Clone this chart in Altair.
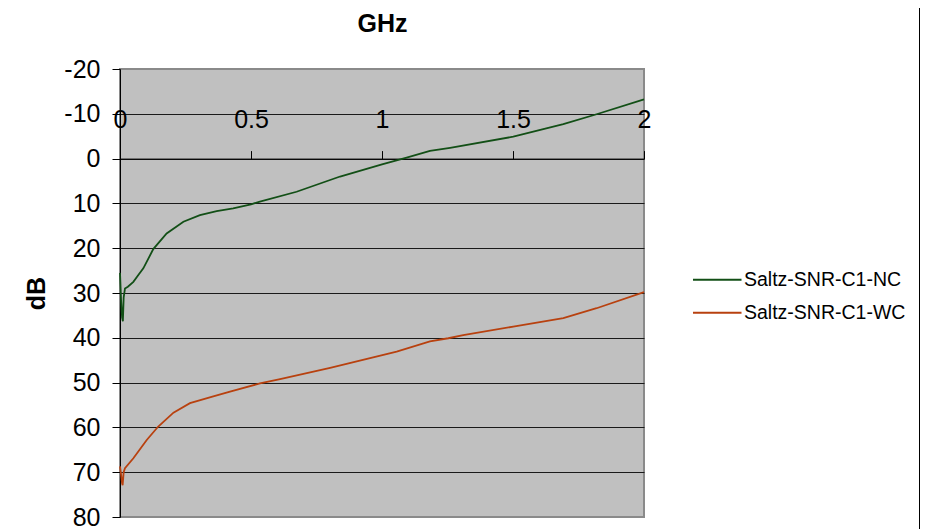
import altair as alt
import pandas as pd

series_names = ["Saltz-SNR-C1-NC", "Saltz-SNR-C1-WC"]
series_colors = ["#124f16", "#b8410f"]

nc_ghz = [0.000, 0.004, 0.008, 0.011, 0.014, 0.019, 0.030, 0.051, 0.070, 0.089,
          0.127, 0.178, 0.242, 0.305, 0.369, 0.432, 0.500, 0.534, 0.674, 0.840,
          1.000, 1.094, 1.183, 1.260, 1.501, 1.692, 1.819, 2.000]
nc_db = [25.5, 31.5, 35.5, 36.3, 31.0, 29.0, 28.6, 27.5, 26.0, 24.5,
         20.2, 16.7, 14.1, 12.6, 11.7, 11.1, 10.2, 9.6, 7.4, 4.0,
         1.3, -0.2, -1.7, -2.4, -4.9, -7.7, -9.9, -13.2]

wc_ghz = [0.000, 0.004, 0.008, 0.010, 0.014, 0.019, 0.051, 0.102, 0.146, 0.204,
          0.267, 0.356, 0.420, 0.534, 0.611, 0.802, 1.056, 1.183, 1.253, 1.310,
          1.501, 1.692, 1.819, 2.000]
wc_db = [68.7, 70.5, 72.5, 72.9, 70.0, 69.1, 66.9, 62.8, 59.8, 56.7,
         54.6, 53.1, 52.0, 50.2, 49.2, 46.7, 43.1, 40.8, 40.1, 39.4,
         37.5, 35.6, 33.4, 29.8]

x_ticks = [0, 0.5, 1, 1.5, 2]
y_ticks = [-20, -10, 0, 10, 20, 30, 40, 50, 60, 70, 80]

df = pd.concat([
    pd.DataFrame({"GHz": nc_ghz, "dB": nc_db, "series": series_names[0], "order": range(len(nc_ghz))}),
    pd.DataFrame({"GHz": wc_ghz, "dB": wc_db, "series": series_names[1], "order": range(len(wc_ghz))}),
])

FONT = "Liberation Sans"
W, H = 524, 448
ZERO_Y = H * 20 / 100

lines = alt.Chart(df).mark_line(strokeWidth=1.8).encode(
    x=alt.X("GHz:Q",
            scale=alt.Scale(domain=[0, 2], nice=False, zero=False),
            axis=alt.Axis(orient="top", offset=-ZERO_Y, values=x_ticks, grid=False,
                          tickSize=8, tickColor="#000", domainColor="#000", domainWidth=1,
                          labelExpr="'' + datum.value", labelFontSize=25, labelFont=FONT,
                          labelColor="#000", labelPadding=23, labelBaseline="alphabetic",
                          labelOverlap=False, labelFlush=False,
                          title="GHz", titleFont=FONT, titleFontSize=25, titleFontWeight="bold",
                          titleColor="#000", titleX=W / 2, titleY=-127.6,
                          titleAlign="center", titleBaseline="alphabetic", titleAnchor="middle")),
    y=alt.Y("dB:Q",
            scale=alt.Scale(domain=[-20, 80], reverse=True, nice=False, zero=False),
            axis=alt.Axis(values=y_ticks, grid=True,
                          gridColor=alt.condition("datum.value == -20 || datum.value == 80",
                                                  alt.value("#8a8a8a"), alt.value("#1a1a1a")),
                          gridWidth=1, tickSize=8, tickColor="#000", domainColor="#000",
                          domainWidth=1, labelExpr="'' + datum.value", labelFontSize=25,
                          labelFont=FONT, labelColor="#000", labelPadding=12,
                          title="dB", titleFont=FONT, titleFontSize=25, titleFontWeight="bold",
                          titleColor="#000", titleX=-76, titleY=H / 2, titleAngle=-90,
                          titleAlign="center", titleBaseline="alphabetic", titleAnchor="middle")),
    color=alt.Color("series:N",
                    scale=alt.Scale(domain=series_names, range=series_colors),
                    legend=alt.Legend(orient="none", legendX=587.5, legendY=201,
                                      symbolType="M-3.1,0H3.1", symbolSize=245,
                                      symbolStrokeWidth=2, labelFontSize=19.5, labelFont=FONT,
                                      labelColor="#000", labelOffset=17, rowPadding=12,
                                      labelLimit=400, title=None)),
    order="order:Q",
)

border = alt.Chart(pd.DataFrame({"v": [0]})).mark_rule(color="#000", strokeWidth=2).encode(
    x=alt.value(800), y=alt.value(-70), y2=alt.value(480)
)

chart = alt.layer(lines, border).properties(
    width=W, height=H,
    padding={"left": 112, "top": 61, "right": 276, "bottom": 12},
    autosize=alt.AutoSizeParams(type="none"),
).configure(
    background="white"
).configure_view(
    fill="#c0c0c0", stroke="#8a8a8a", strokeWidth=2
)

chart.save("out.html", embed_options={"renderer": "svg", "actions": False})
